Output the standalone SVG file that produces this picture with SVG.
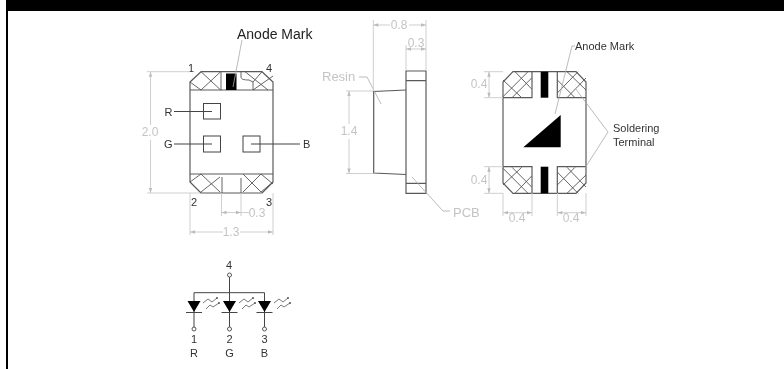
<svg xmlns="http://www.w3.org/2000/svg" width="784" height="369" viewBox="0 0 784 369">
<style>
text{font-family:"Liberation Sans",Arial,sans-serif}
.o{fill:none;stroke:#5a5a5a;stroke-width:1.2}
.h{fill:none;stroke:#555;stroke-width:.9}
.d{fill:none;stroke:#cfcfcf;stroke-width:1}
.l{fill:none;stroke:#aaa;stroke-width:.8}
.dt{fill:#c4c4c4;font-size:12px}
.dk{fill:#333;font-size:11px}
.s{fill:none;stroke:#444;stroke-width:1}
.w{fill:none;stroke:#555;stroke-width:.8}
</style>
<defs>
<marker id="ar" viewBox="0 0 6 6" refX="6" refY="3" markerWidth="6" markerHeight="5" orient="auto-start-reverse" markerUnits="userSpaceOnUse"><path d="M0 1 6 3 0 5z" fill="#bbb"/></marker>
<filter id="soft" x="0" y="0" width="100%" height="100%"><feGaussianBlur stdDeviation="0.35"/></filter>
<g id="wave"><path class="w" d="M203 303 208 299 212 302 217 298M206 309 210 305 213 307 219 303"/><circle cx="217" cy="298" r="1" fill="#555"/><circle cx="219" cy="303" r="1" fill="#555"/></g>
</defs>
<rect width="784" height="369" fill="#fff"/>
<g id="frame"><rect x="6" y="0" width="778" height="11" fill="#000"/><rect x="6" y="0" width="2" height="369" fill="#000"/></g>
<g filter="url(#soft)">
<g id="front-view">
<path class="o" d="M190 82 201 71.700H262L273 82V182L262 193H201L190 182Z" stroke-linejoin="round"/>
<path class="o" d="M190 90H273M190 174H273"/>
<path class="h" d="M221 72V90M253 82V90M222 177V193M241 178V193"/>
<path class="h" d="M201 71.700 220.700 90M220.700 71.700 201 90M190 82 201 90M241 72V77C241 79 243 80 249 80L253 82M245 71.700 268 90M262 71.700 253 82M253 90 273 76"/>
<path class="h" d="M190 182 201 174 220 192M201 192 220 177M243 192 261 174 273 184M243 174 261 192 273 182"/>
<rect x="226" y="73.500" width="10.500" height="16.500" fill="#000"/>
<rect class="s" x="203.500" y="103.500" width="17" height="15.500"/>
<rect class="s" x="203.500" y="136" width="17" height="16"/>
<rect class="s" x="243" y="136" width="17" height="16"/>
<path class="s" stroke-width=".8" d="M174 111.500H212M174 144H212M251 144H300"/>
<path class="l" d="M242 40 233 87"/>
<text x="237" y="39" font-size="14" fill="#222">Anode Mark</text>
<text class="dk" x="188" y="72">1</text>
<text class="dk" x="266" y="72">4</text>
<text class="dk" x="191" y="206">2</text>
<text class="dk" x="266" y="206">3</text>
<text class="dk" x="164.500" y="115.500">R</text>
<text class="dk" x="164" y="148">G</text>
<text class="dk" x="303" y="148">B</text>
</g>

<g id="side-view">
<path class="o" d="M406 71H426V193.300H406ZM406 80.700H426M406 183.300H426"/>
<path class="o" d="M406 90 373.700 91.500V173L406 174.500"/>
<path class="l" d="M359 77H367L381 104M412 177 443 211H450"/>
<text x="322" y="81" font-size="13" fill="#c4c4c4">Resin</text>
<text x="453" y="216.500" font-size="13" fill="#c4c4c4">PCB</text>
</g>

<g id="back-view">
<path class="o" d="M503 82 513 71.700H576L586 82V183L576 193.300H513L503 183Z"/>
<path class="o" d="M503 97.700H532V71.700M586 97.700H557.300V71.700M503 166.700H532V193.300M586 166.700H557.300V193.300"/>
<path class="h" d="M515 71.700 531.700 89M503 80 521.700 97.700M503 96.700 528 71.700M512 97.700 531.700 78M557.300 93 578 71.700M567 97.700 586 78M567 71.700 586 90M557.300 80 575 97.700"/>
<path class="h" d="M515 193.300 531.700 176M503 185 521.700 167.300M503 168.300 528 193.300M512 167.300 531.700 187M557.300 172 578 193.300M567 167.300 586 187M567 193.300 586 175M557.300 185 575 167.300"/>
<rect x="540.700" y="71.700" width="7.600" height="26" fill="#000"/>
<rect x="540.700" y="166.700" width="7.600" height="26.600" fill="#000"/>
<path fill="#000" d="M523.300 147.300H560.700V115Z"/>
<path class="l" d="M575 46H572L555 114M575 88 608 132 585 168"/>
<text class="dk" x="575" y="50">Anode Mark</text>
<text class="dk" x="613" y="132">Soldering</text>
<text class="dk" x="613" y="146">Terminal</text>
</g>

<g id="schematic">
<path class="s" d="M229.500 277V329M194 329V292.700H264.500V329"/>
<circle cx="229.500" cy="275" r="2" fill="#fff" stroke="#555"/>
<circle cx="194" cy="329" r="2" fill="#fff" stroke="#555"/>
<circle cx="229.500" cy="329" r="2" fill="#fff" stroke="#555"/>
<circle cx="264.500" cy="329" r="2" fill="#fff" stroke="#555"/>
<path fill="#000" d="M187.500 301H200.500L194 312ZM223 301H236L229.500 312ZM258 301H271L264.500 312Z"/>
<path class="s" d="M186 312.500H202M221.500 312.500H237.500M256.500 312.500H272.500"/>
<use href="#wave"/><use href="#wave" x="36"/><use href="#wave" x="71"/>
<g font-size="11" fill="#333" text-anchor="middle">
<text x="229" y="269">4</text>
<text x="194" y="343">1</text><text x="229.500" y="343">2</text><text x="264.500" y="343">3</text>
<text x="194" y="357">R</text><text x="229.500" y="357">G</text><text x="264.500" y="357">B</text>
</g>
</g>

<g id="connectors">
<path class="d" d="M147 71.700H190M147 193H200M190 193V235M273 193V235M221.500 193V216M241 193V216M373.300 20V90M426 20V70M406 45V70M346 91H373M346 173.500H373M484 71.700H503M484 97.700H503M484 166.700H503M484 193.300H503M503 193V216M532 193V216M557.300 193V216M586 193V216"/>
<path class="d" marker-start="url(#ar)" d="M150.500 71.700V125"/>
<path class="d" marker-end="url(#ar)" d="M150.500 140V193"/>
<path class="d" marker-start="url(#ar)" d="M190 232H223"/>
<path class="d" marker-end="url(#ar)" d="M240 232H273"/>
<path class="d" marker-start="url(#ar)" marker-end="url(#ar)" d="M221.500 212.500H241"/>
<path class="d" d="M241 212.500H249"/>
<path class="d" marker-start="url(#ar)" d="M373.300 25H390"/>
<path class="d" marker-end="url(#ar)" d="M409 25H426"/>
<path class="d" marker-start="url(#ar)" marker-end="url(#ar)" d="M406 49H426"/>
<path class="d" marker-start="url(#ar)" d="M349 91V124"/>
<path class="d" marker-end="url(#ar)" d="M349 139V173.500"/>
<path class="d" marker-start="url(#ar)" marker-end="url(#ar)" d="M489 71.700V97.700"/>
<path class="d" marker-start="url(#ar)" marker-end="url(#ar)" d="M489 166.700V193.300"/>
<path class="d" marker-start="url(#ar)" marker-end="url(#ar)" d="M503 212.700H532"/>
<path class="d" marker-start="url(#ar)" marker-end="url(#ar)" d="M557.300 212.700H586"/>
<g class="dt" text-anchor="middle">
<text x="150" y="136">2.0</text>
<text x="231" y="236">1.3</text>
<text x="257" y="217">0.3</text>
<text x="399" y="29">0.8</text>
<text x="416" y="47">0.3</text>
<text x="349" y="135">1.4</text>
<text x="479" y="88">0.4</text>
<text x="479" y="184">0.4</text>
<text x="517" y="222">0.4</text>
<text x="571" y="222">0.4</text>
</g>
</g>
</g>
</svg>
